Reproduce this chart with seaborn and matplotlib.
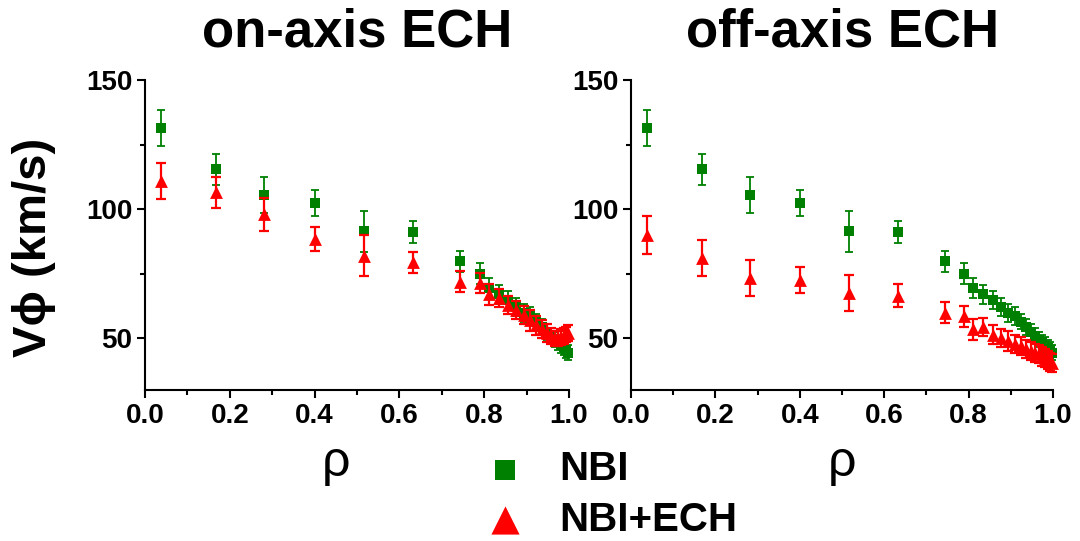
import numpy as np
import pandas as pd
import matplotlib
matplotlib.use('Agg')
import matplotlib.pyplot as plt
import seaborn as sns
from matplotlib.ticker import MultipleLocator

# rho positions (shared by all profiles)
rho = [0.038, 0.167, 0.281, 0.400, 0.517, 0.632, 0.743, 0.789, 0.811, 0.835,
       0.857, 0.876, 0.893, 0.909, 0.923, 0.936, 0.948, 0.958, 0.967, 0.975,
       0.982, 0.988, 0.993, 0.997]

# NBI only (same in both panels)
v_nbi = [131.5, 115.5, 105.5, 102.5, 91.5, 91.2, 79.8, 75.0, 69.5, 67.0,
         65.0, 62.0, 60.0, 58.5, 56.5, 54.5, 52.5, 51.0, 49.5, 48.5,
         47.5, 46.5, 45.5, 44.5]
e_nbi = [7, 6, 7, 5, 8, 4.3, 4, 4, 4, 3.5, 3.5, 3.5, 3.5, 3.5, 3, 3, 3, 3,
         3, 3, 3, 3, 3, 3]

# NBI+ECH, on-axis
v_on = [111.0, 106.5, 98.0, 88.5, 82.0, 79.5, 72.0, 71.5, 67.0, 65.5,
        63.0, 61.0, 59.0, 57.0, 55.0, 53.5, 52.0, 51.0, 50.0, 50.0,
        50.5, 51.0, 51.5, 52.0]
e_on = [7, 6, 6.5, 4.5, 8, 4, 4, 4, 4, 3.5, 3.5, 3.5, 3.5, 4, 3.5, 3.5,
        3.5, 3, 3, 3, 3, 3, 3, 3]

# NBI+ECH, off-axis
v_off = [90.0, 81.0, 73.5, 72.5, 67.5, 66.5, 60.0, 58.5, 53.5, 54.5,
         51.5, 50.0, 49.0, 48.0, 47.0, 46.0, 45.0, 44.5, 44.0, 43.0,
         42.5, 41.5, 41.0, 40.5]
e_off = [7.5, 7, 7, 5, 7, 4.4, 4, 4, 4, 3.5, 3.5, 3.5, 4, 3.5, 3.5, 3.5,
         3.5, 3.5, 3.5, 3.5, 3.5, 3.5, 3.5, 3.5]

titles = ['on-axis ECH', 'off-axis ECH']

sns.set_style('ticks')
plt.rcParams['font.family'] = ['Liberation Sans', 'DejaVu Sans']
plt.rcParams['font.weight'] = 'bold'
plt.rcParams['text.color'] = 'black'
plt.rcParams['axes.labelcolor'] = 'black'
plt.rcParams['axes.edgecolor'] = 'black'
plt.rcParams['xtick.color'] = 'black'
plt.rcParams['ytick.color'] = 'black'

fig = plt.figure(figsize=(10.8, 5.41), dpi=100)
ax1 = fig.add_axes([0.1343, 0.279, 0.3926, 0.573])
ax2 = fig.add_axes([0.5843, 0.279, 0.3907, 0.573])

panels = [(ax1, v_on, e_on), (ax2, v_off, e_off)]

for i, (ax, v_ech, e_ech) in enumerate(panels):
    # NBI
    ax.errorbar(rho, v_nbi, yerr=e_nbi, fmt='none', ecolor='#008000',
                elinewidth=1.3, capsize=3, capthick=1.3, zorder=2, clip_on=False)
    sns.scatterplot(x=rho, y=v_nbi, color='#008000', marker='s', s=45,
                    linewidth=0, ax=ax, zorder=3, label='NBI', clip_on=False)
    # NBI+ECH
    ax.errorbar(rho, v_ech, yerr=e_ech, fmt='none', ecolor='#FF0000',
                elinewidth=1.6, capsize=3.5, capthick=1.6, zorder=4, clip_on=False)
    sns.scatterplot(x=rho, y=v_ech, color='#FF0000', marker='^', s=85,
                    linewidth=0, ax=ax, zorder=5, label='NBI+ECH', clip_on=False)

    ax.set_xlim(0, 1.0)
    ax.set_ylim(30, 150)
    ax.set_xticks(np.arange(0, 1.01, 0.2))
    ax.set_yticks([50, 100, 150])
    ax.xaxis.set_minor_locator(MultipleLocator(0.1))
    ax.yaxis.set_minor_locator(MultipleLocator(25))
    ax.tick_params(which='major', direction='out', length=6, width=1.5,
                   labelsize=20, pad=3)
    ax.tick_params(which='minor', direction='out', length=3.5, width=1.5)
    for lab in ax.get_xticklabels() + ax.get_yticklabels():
        lab.set_fontweight('bold')
    for side in ['left', 'bottom']:
        ax.spines[side].set_linewidth(1.5)
    sns.despine(ax=ax)

    ax.set_title(titles[i], fontsize=38, fontweight='bold', pad=24)
    ax.set_xlabel('ρ', fontsize=36, fontweight='normal')
    ax.xaxis.set_label_coords(0.45 if i == 0 else 0.5, -0.16)
    ax.set_ylabel('')
    ax.get_legend().remove()

ax1.set_ylabel('Vϕ (km/s)', fontsize=34, fontweight='bold')
ax1.yaxis.set_label_coords(-0.21, 0.46)

handles, labels = ax1.get_legend_handles_labels()
fig.legend(handles, labels, loc='center', bbox_to_anchor=(0.5564, 0.086),
           frameon=False, markerscale=2.2, handletextpad=0.33,
           labelspacing=0.3, prop={'weight': 'bold', 'size': 29})

fig.savefig('out.png', dpi=100)
